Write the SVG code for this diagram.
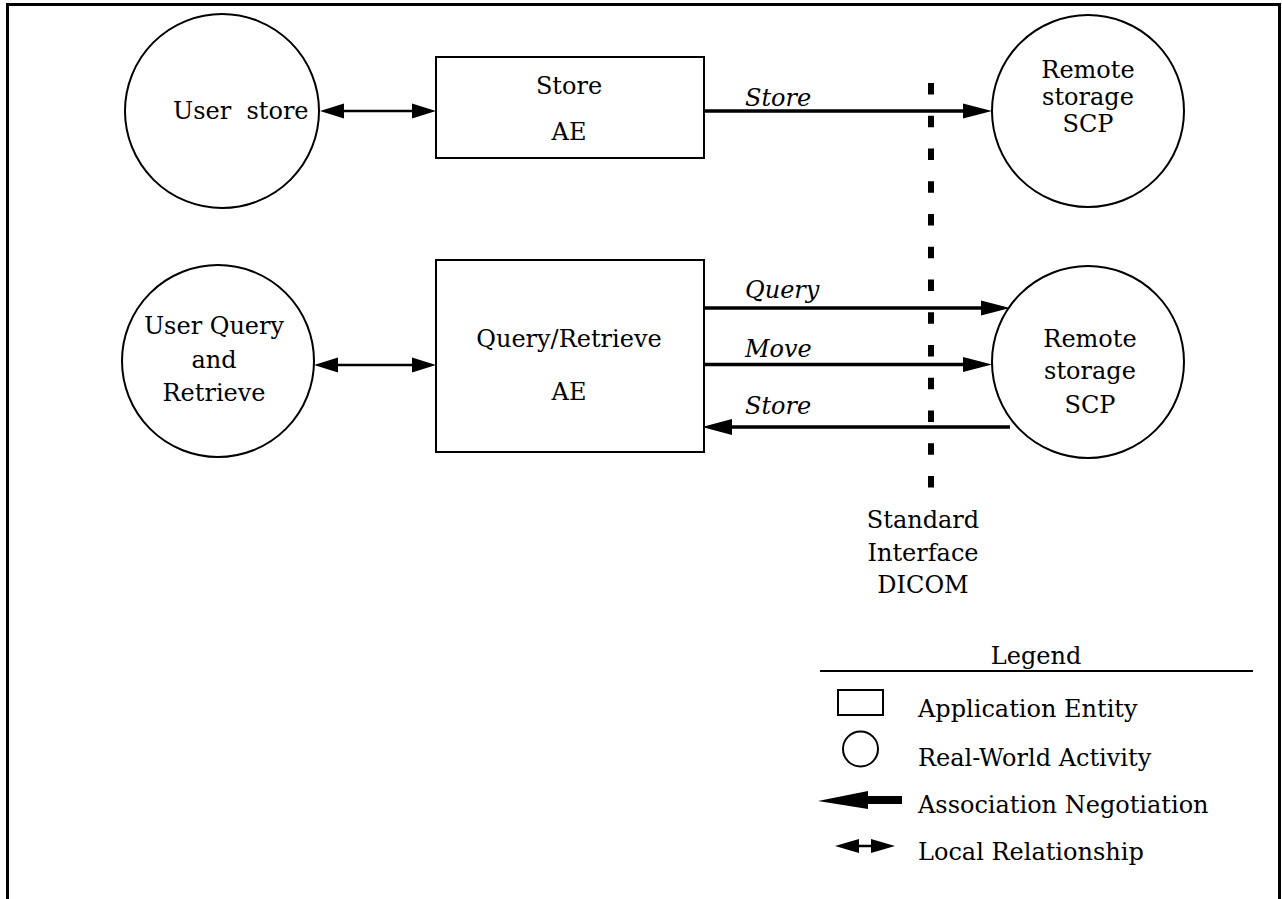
<svg xmlns="http://www.w3.org/2000/svg" width="1282" height="899" viewBox="0 0 1282 899">
  <style>
    .txt { font-family: "DejaVu Serif", "Liberation Serif", serif; font-size: 24px; fill: #000; }
    .mid { text-anchor: middle; }
    .it { font-style: italic; }
    .shape { fill: #fff; stroke: #000; stroke-width: 2; }
    .line { stroke: #000; stroke-width: 3.5; fill: none; }
    .thin { stroke: #000; stroke-width: 2.5; fill: none; }
    .head { fill: #000; stroke: none; }
  </style>

  <rect x="0" y="0" width="1282" height="899" fill="#fff"/>

  <!-- frame, open at the bottom -->
  <path d="M7.5,899 V4.5 H1279.5 V899" fill="none" stroke="#000" stroke-width="3"/>

  <!-- DICOM interface boundary -->
  <line x1="931" y1="83" x2="931" y2="488" stroke="#000" stroke-width="6" stroke-dasharray="11.5 21.25"/>

  <g id="connectors">
    <!-- User store <-> Store AE -->
    <line class="thin" x1="340" y1="111" x2="416" y2="111"/>
    <polygon class="head" points="320,111 344,103.5 344,118.5"/>
    <polygon class="head" points="436,111 412,103.5 412,118.5"/>

    <!-- Store AE -> Remote storage -->
    <line class="line" x1="704" y1="111" x2="968" y2="111"/>
    <polygon class="head" points="992,111 963,103.5 963,118.5"/>

    <!-- User Query and Retrieve <-> Query/Retrieve AE -->
    <line class="thin" x1="334" y1="365" x2="416" y2="365"/>
    <polygon class="head" points="314,365 338,357.5 338,372.5"/>
    <polygon class="head" points="436,365 412,357.5 412,372.5"/>

    <!-- Query -->
    <line class="line" x1="704" y1="308" x2="986" y2="308"/>
    <polygon class="head" points="1010,308 981,300.5 981,315.5"/>

    <!-- Move -->
    <line class="line" x1="704" y1="364.5" x2="968" y2="364.5"/>
    <polygon class="head" points="992,364.5 963,357 963,372"/>

    <!-- Store (inbound) -->
    <line class="line" x1="1010" y1="427" x2="728" y2="427"/>
    <polygon class="head" points="702,427 732,419 732,435"/>
  </g>

  <g id="user-store">
    <circle class="shape" cx="222" cy="111" r="97"/>
    <text class="txt" x="173" y="119" xml:space="preserve">User  store</text>
  </g>

  <g id="store-ae">
    <rect class="shape" x="436" y="57" width="268" height="101"/>
    <text class="txt mid" x="569" y="94">Store</text>
    <text class="txt mid" x="569" y="140">AE</text>
  </g>

  <g id="remote-storage-1">
    <circle class="shape" cx="1088" cy="111" r="96"/>
    <text class="txt mid" x="1088" y="78">Remote</text>
    <text class="txt mid" x="1088" y="105">storage</text>
    <text class="txt mid" x="1088" y="132">SCP</text>
  </g>

  <g id="user-query-retrieve">
    <circle class="shape" cx="218" cy="361" r="96"/>
    <text class="txt mid" x="214" y="334">User Query</text>
    <text class="txt mid" x="214" y="368">and</text>
    <text class="txt mid" x="214" y="401">Retrieve</text>
  </g>

  <g id="query-retrieve-ae">
    <rect class="shape" x="436" y="260" width="268" height="192"/>
    <text class="txt mid" x="569" y="347">Query/Retrieve</text>
    <text class="txt mid" x="569" y="400">AE</text>
  </g>

  <g id="remote-storage-2">
    <circle class="shape" cx="1088" cy="362" r="96"/>
    <text class="txt mid" x="1090" y="347">Remote</text>
    <text class="txt mid" x="1090" y="379">storage</text>
    <text class="txt mid" x="1090" y="413">SCP</text>
  </g>

  <g id="labels">
    <text class="txt it" x="745" y="106">Store</text>
    <text class="txt it" x="745" y="298">Query</text>
    <text class="txt it" x="745" y="357">Move</text>
    <text class="txt it" x="745" y="414">Store</text>
  </g>

  <g id="interface-label">
    <text class="txt mid" x="923" y="528">Standard</text>
    <text class="txt mid" x="923" y="561">Interface</text>
    <text class="txt mid" x="923" y="593">DICOM</text>
  </g>

  <g id="legend">
    <text class="txt mid" x="1036" y="664">Legend</text>
    <line x1="820" y1="671" x2="1253" y2="671" stroke="#000" stroke-width="2"/>

    <rect class="shape" x="838" y="690" width="45" height="25"/>
    <text class="txt" x="918" y="717">Application Entity</text>

    <circle class="shape" cx="860.5" cy="749" r="17.5"/>
    <text class="txt" x="918" y="766">Real-World Activity</text>

    <rect x="864" y="796" width="38" height="8" fill="#000"/>
    <polygon class="head" points="818,801 868,791 868,809"/>
    <text class="txt" x="918" y="813">Association Negotiation</text>

    <line class="thin" x1="855" y1="846" x2="876" y2="846"/>
    <polygon class="head" points="835,846 859,839 859,853"/>
    <polygon class="head" points="895,846 871,839 871,853"/>
    <text class="txt" x="918" y="860">Local Relationship</text>
  </g>
</svg>
